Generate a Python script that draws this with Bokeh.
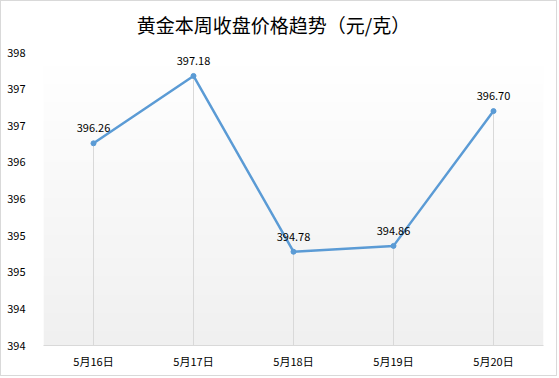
import numpy as np
from bokeh.plotting import figure
from bokeh.models import ColumnDataSource, FixedTicker, Range1d, FactorRange, LabelSet, Label
from bokeh.core.properties import value
from bokeh.embed import file_html
from bokeh.resources import INLINE

dates = ["5月16日", "5月17日", "5月18日", "5月19日", "5月20日"]
prices = [396.26, 397.18, 394.78, 394.86, 396.70]
labels = ["396.26", "397.18", "394.78", "394.86", "396.70"]
y_ticks = [393.5, 394.0, 394.5, 395.0, 395.5, 396.0, 396.5, 397.0, 397.5]
y_tick_labels = ["394", "394", "395", "395", "396", "396", "397", "397", "398"]
title_text = "黄金本周收盘价格趋势（元/克）"

Y0, Y1 = 393.5, 397.5
# frame extends to the top of the canvas so the title can sit inside it
HEADROOM = 51 * (Y1 - Y0) / 293
FONT = "Noto Sans CJK SC"

p = figure(width=557, height=376, output_backend="svg", toolbar_location=None,
           x_range=FactorRange(*dates), y_range=Range1d(Y0, Y1 + HEADROOM),
           min_border_left=42, min_border_right=15, min_border_top=0, min_border_bottom=32)
p.styles = {"border": "1px solid #d9d9d9"}

# gradient background of plot area
n = 64
grad = np.zeros((n, 1), dtype=np.uint32)
view = grad.view(dtype=np.uint8).reshape((n, 1, 4))
for i in range(n):
    t = i / (n - 1)  # 0 at bottom, 1 at top
    c = int(round(0xf0 + (0xff - 0xf0) * t))
    view[i, 0, :] = [c, c, c, 255]
p.image_rgba(image=[grad], x=0, y=Y0, dw=5, dh=Y1 - Y0, level="image")

src = ColumnDataSource(dict(x=dates, y=prices, y0=[Y0] * len(dates), lab=labels))
p.segment(x0="x", y0="y0", x1="x", y1="y", source=src, line_color="#d9d9d9", line_width=1)
p.line(x="x", y="y", source=src, line_color="#5b9bd5", line_width=2.5)
p.scatter(x="x", y="y", source=src, size=5, color="#5b9bd5")

ls = LabelSet(x="x", y="y", text="lab", source=src, text_align="center", text_baseline="bottom",
              y_offset=11, text_font=value(FONT), text_font_size="11px", text_color="#000000")
p.add_layout(ls)

# chart title (screen units are relative to the plot frame)
title = Label(x=230, y=321, x_units="screen", y_units="screen", text=title_text,
              text_align="center", text_baseline="middle", text_font=FONT,
              text_font_size="19px", text_color="#000000")
p.add_layout(title)

p.yaxis.ticker = FixedTicker(ticks=y_ticks)
p.yaxis.major_label_overrides = {t: l for t, l in zip(y_ticks, y_tick_labels)}
p.yaxis.axis_line_color = None
p.yaxis.major_tick_line_color = None
p.yaxis.minor_tick_line_color = None
p.yaxis.major_label_standoff = 12
p.yaxis.major_label_text_font = FONT
p.yaxis.major_label_text_font_size = "11px"
p.yaxis.major_label_text_color = "#000000"

p.xaxis.axis_line_color = "#d9d9d9"
p.xaxis.major_tick_line_color = None
p.xaxis.minor_tick_line_color = None
p.xaxis.major_label_standoff = 1
p.xaxis.major_label_text_font = FONT
p.xaxis.major_label_text_font_size = "11px"
p.xaxis.major_label_text_color = "#000000"

p.xgrid.grid_line_color = None
p.ygrid.grid_line_color = None
p.outline_line_color = None
p.background_fill_color = "#ffffff"

open("out.html", "w").write(file_html(p, INLINE))
